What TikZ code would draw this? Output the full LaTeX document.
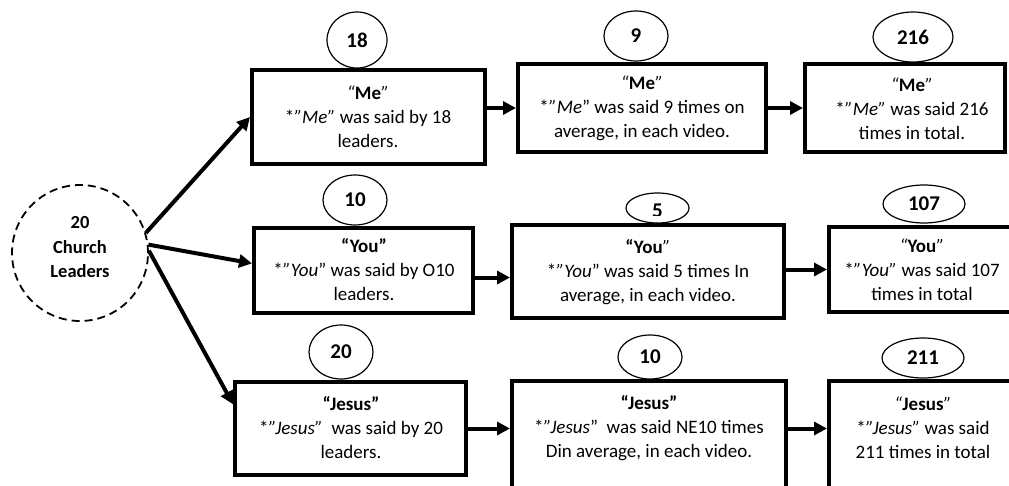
\documentclass[tikz,border=0pt]{standalone}
\usepackage{fontspec}
\setmainfont{Carlito}
\usetikzlibrary{arrows.meta,calc,shapes.geometric}
\begin{document}
\begin{tikzpicture}[x=1pt,y=-1pt,
  box/.style={draw,line width=4pt,rectangle,inner sep=0pt,fill=white},
  num/.style={draw,ellipse,line width=1.2pt,inner sep=0pt,fill=white,font=\bfseries\fontsize{21}{24}\selectfont},
  txt/.style={align=center,inner sep=0pt,font=\fontsize{19}{24}\selectfont},
  arr/.style={line width=4pt,-{Triangle[length=13pt,width=13pt]}},
  root/.style={draw,circle,dashed,dash pattern=on 8pt off 5pt,line width=1.8pt,inner sep=0pt}]
\useasboundingbox (0,0) rectangle (1009,485);
\clip (0,0) rectangle (1009,485);

% root
\node[root,minimum size=136] (R) at (80,253) {};
\node[align=center,inner sep=0pt,font=\bfseries\fontsize{18.5}{24.5}\selectfont] (Rt) at (80,247) {20\\Church\\Leaders};

% boxes
\node[box,minimum width=233,minimum height=94] (A1) at (368.5,117) {};
\node[box,minimum width=248,minimum height=88] (A2) at (642,108) {};
\node[box,minimum width=200,minimum height=88] (A3) at (905,108) {};
\node[box,minimum width=219,minimum height=85] (B1) at (363.5,270.5) {};
\node[box,minimum width=272,minimum height=93] (B2) at (648,271) {};
\node[box,minimum width=201,minimum height=85] (B3) at (929.5,269.5) {};
\node[box,minimum width=231,minimum height=93] (C1) at (350.5,428.5) {};
\node[box,minimum width=274,minimum height=119] (C2) at (649,440.5) {};
\node[box,minimum width=201,minimum height=119] (C3) at (929.5,440.5) {};

% texts
\node[txt] (tA1) at (368,117) {\textit{“}\textbf{Me}\textit{”}\\{*}\textit{”Me”} was said by 18\\leaders.};
\node[txt] (tA2) at (642,108) {\textit{“}\textbf{Me}\textit{”}\\{*}\textit{”Me}" was said 9 times on\\average, in each video.};
\node[txt] (tA3) at (912,109) {\textit{“}\textbf{Me}\textit{”}\\{*}\textit{”Me”} was said 216\\times in total.};
\node[txt] (tB1) at (364,270) {\textbf{“You”}\\{*}\textit{”You}" was said by O10\\leaders.};
\node[txt] (tB2) at (648,272) {\textbf{“You}\textit{”}\\{*}\textit{”You}" was said 5 times In\\average, in each video.};
\node[txt] (tB3) at (922,270) {\textit{“}\textbf{You}\textit{”}\\{*}\textit{”You”} was said 107\\times in total};
\node[txt] (tC1) at (351,428) {\textbf{“Jesus”}\\{*}\textit{”Jesus”}\ \ was said by 20\\leaders.};
\node[txt] (tC2) at (649,428) {\textbf{“Jesus”}\\{*}\textit{”Jesus}"\ \ was said NE10 times\\Din average, in each video.};
\node[txt] (tC3) at (923,428) {\textit{“}\textbf{Jesus}\textit{”}\\{*}\textit{”Jesus”} was said\\211 times in total};

% number ellipses
\node[num,minimum width=60,minimum height=56] (nA1) at (357,40) {18};
\node[num,minimum width=64,minimum height=50] (nA2) at (636,36) {9};
\node[num,minimum width=80,minimum height=50] (nA3) at (913,37) {216};
\node[num,minimum width=64,minimum height=50] (nB1) at (355,200) {10};
\node[num,minimum width=63,minimum height=30] (nB2) at (657.5,208) {};
\begin{scope}
  \clip (620,190) rectangle (700,215.5);
  \node[inner sep=0pt,font=\bfseries\fontsize{21}{24}\selectfont] (n5) at (657.5,211) {5};
\end{scope}
\node[num,minimum width=82,minimum height=38] (nB3) at (924,204) {107};
\node[num,minimum width=64,minimum height=54] (nC1) at (341,352) {20};
\node[num,minimum width=64,minimum height=44] (nC2) at (650,357) {10};
\node[num,minimum width=82,minimum height=40] (nC3) at (923,358) {211};

% connectors from root
\draw[arr] (R.17) -- (A1.west);
\draw[arr] (R.7) -- ($(B1.north west)!0.42!(B1.south west)$);
\draw[arr] (R.2) -- ($(C1.north west)!0.25!(C1.south west)$);

% connectors between boxes
\draw[arr] (A1.east |- A2.west) -- (A2.west);
\draw[arr] (A2.east) -- (A3.west);
\draw[arr] ([yshift=-7pt]B1.east) -- ([yshift=-7pt]B1.east -| B2.west);
\draw[arr] (B2.east |- B3.west) -- (B3.west);
\draw[arr] (C1.east) -- (C1.east -| C2.west);
\draw[arr] (C2.east |- C1.east) -- (C3.west |- C1.east);
\end{tikzpicture}
\end{document}
